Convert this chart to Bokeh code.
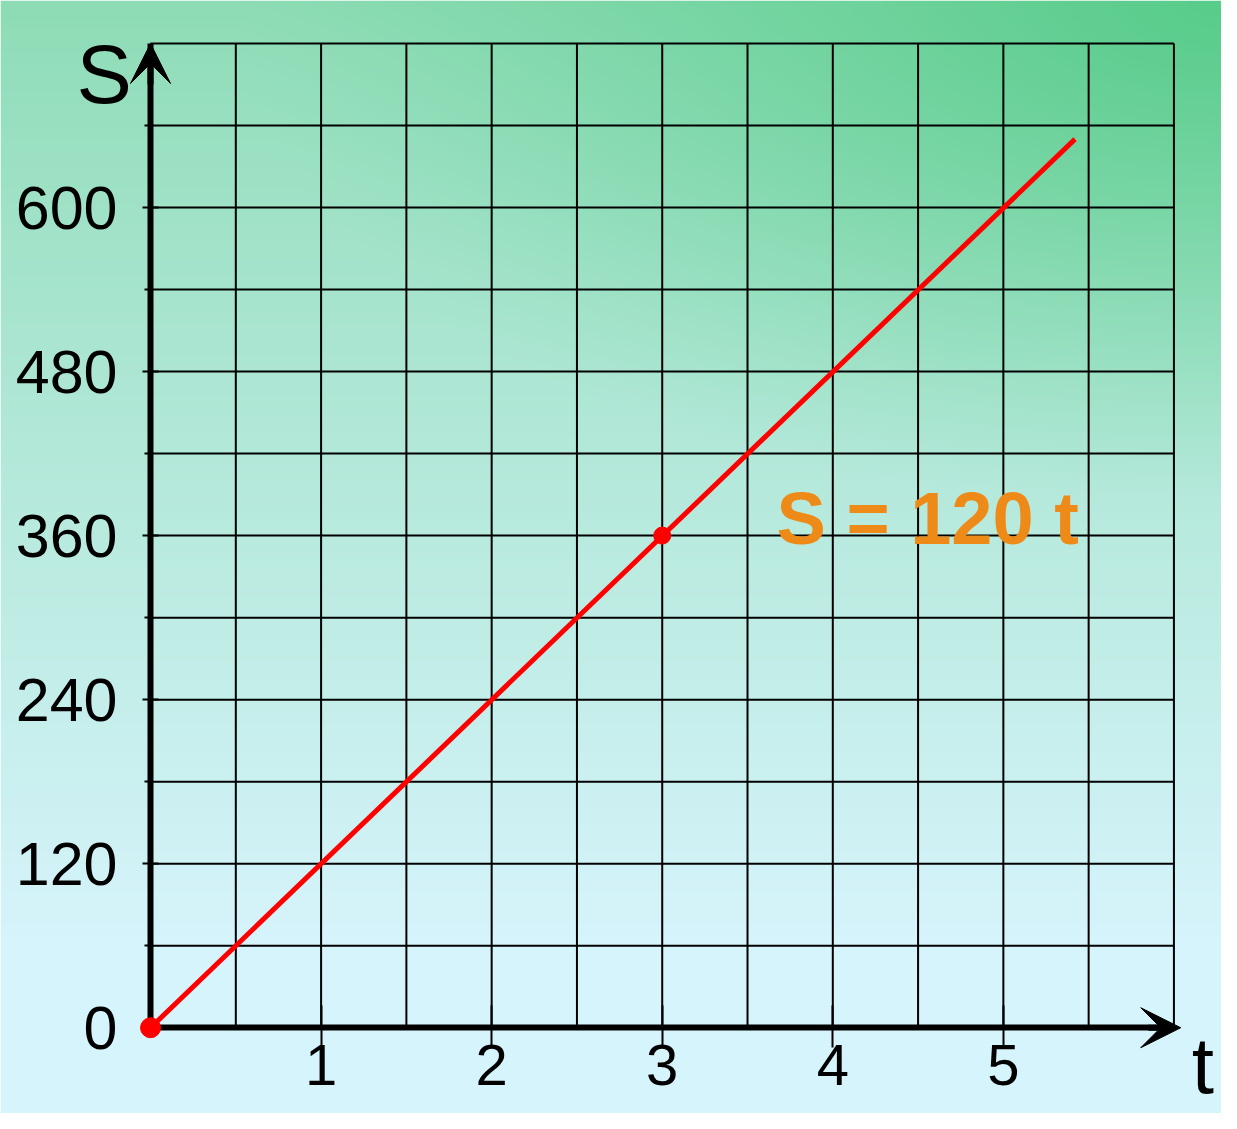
import numpy as np
from bokeh.plotting import figure
from bokeh.models import Range1d, LinearAxis, FixedTicker, Arrow, VeeHead, Label
from bokeh.embed import file_html
from bokeh.resources import INLINE

# ---- data ----
t_line = [0, 5.42]
s_line = [0, 650]
point_t = [0, 3]
point_s = [0, 360]
x_ticks = [1, 2, 3, 4, 5]
y_ticks = [0, 120, 240, 360, 480, 600]
y_minor = [60, 180, 300, 420, 540, 660]
x_grid = [0.5, 1, 1.5, 2, 2.5, 3, 3.5, 4, 4.5, 5, 5.5, 6]
y_grid = [60, 120, 180, 240, 300, 360, 420, 480, 540, 600, 660, 720]
formula_text = "S = 120 t"
x_name = "t"
y_name = "S"

W, H = 1221, 1113
X0, X1 = -0.8796, 6.2789
Y0, Y1 = -62.74, 751.44

p = figure(width=W, height=H, output_backend="svg", toolbar_location=None,
           x_range=Range1d(X0, X1), y_range=Range1d(Y0, Y1),
           min_border=0, x_axis_location=None, y_axis_location=None)
p.outline_line_color = None
p.background_fill_alpha = 0
p.border_fill_alpha = 0
for g in p.grid:
    g.visible = False

# ---- background gradient (image) ----
ny, nx = 280, 300
py = np.linspace(1129, 0, ny)[:, None]  # row 0 = bottom
px = np.linspace(0, 1237, nx)[None, :]
top = np.array([141, 220, 181], float)
bot = np.array([214, 244, 251], float)
f = np.clip(py / 950.0, 0, 1) ** 0.9
base = top[None, None, :] * (1 - f[..., None]) + bot[None, None, :] * f[..., None]
base = np.broadcast_to(base, (ny, nx, 3)).copy()
d = np.sqrt(((1237 - px) / 1000.0) ** 2 + (py / 520.0) ** 2)
gw = np.clip(1 - d, 0, 1) ** 1.2
green = np.array([88, 204, 138], float)
col = base * (1 - gw[..., None]) + green[None, None, :] * gw[..., None]
img = np.empty((ny, nx), dtype=np.uint32)
v = img.view(dtype=np.uint8).reshape((ny, nx, 4))
v[..., 0] = col[..., 0].astype(np.uint8)
v[..., 1] = col[..., 1].astype(np.uint8)
v[..., 2] = col[..., 2].astype(np.uint8)
v[..., 3] = 255
p.image_rgba(image=[img], x=X0, y=Y0, dw=X1 - X0, dh=Y1 - Y0)

# ---- grid ----
p.segment(x0=x_grid, y0=[0] * len(x_grid), x1=x_grid, y1=[720] * len(x_grid),
          line_color="black", line_width=2)
p.segment(x0=[0] * len(y_grid), y0=y_grid, x1=[6] * len(y_grid), y1=y_grid,
          line_color="black", line_width=2)

# ---- axes ----
FONT = "Liberation Sans"
xaxis = LinearAxis(fixed_location=0, ticker=FixedTicker(ticks=x_ticks, minor_ticks=[]),
                   bounds=(0, 6.0))
xaxis.axis_line_width = 6
xaxis.axis_line_color = "black"
xaxis.major_tick_in = 22
xaxis.major_tick_out = 20
xaxis.major_tick_line_width = 2
xaxis.minor_tick_line_color = None
xaxis.major_label_text_font = FONT
xaxis.major_label_text_font_size = "58px"
xaxis.major_label_text_color = "black"
xaxis.major_label_standoff = -3
p.add_layout(xaxis, "below")

yaxis = LinearAxis(fixed_location=0, ticker=FixedTicker(ticks=y_ticks, minor_ticks=y_minor),
                   bounds=(0, 720))
yaxis.axis_line_width = 6
yaxis.axis_line_color = "black"
yaxis.major_tick_in = 8
yaxis.major_tick_out = 8
yaxis.major_tick_line_width = 2
yaxis.minor_tick_in = 0
yaxis.minor_tick_out = 6
yaxis.minor_tick_line_width = 2
yaxis.major_label_text_font = FONT
yaxis.major_label_text_font_size = "61px"
yaxis.major_label_text_color = "black"
yaxis.major_label_standoff = 25
p.add_layout(yaxis, "left")

p.add_layout(Arrow(end=VeeHead(size=40, fill_color="black", line_color="black", line_width=1),
                   x_start=0, y_start=690, x_end=0, y_end=720, line_width=6, line_color="black"))
p.add_layout(Arrow(end=VeeHead(size=40, fill_color="black", line_color="black", line_width=1),
                   x_start=5.85, y_start=0, x_end=6.04, y_end=0, line_width=6, line_color="black"))

# ---- line and points ----
p.line(t_line, s_line, line_color="#ff0000", line_width=5)
p.scatter(point_t, point_s, size=[20, 17], fill_color="#ff0000", line_color="#ff0000",
          level="overlay")

# ---- texts ----
p.add_layout(Label(x=3.67, y=372.8, text=formula_text, text_font=FONT, text_font_style="bold",
                   text_font_size="74px", text_color="#ee8a18", text_baseline="alphabetic"))
p.add_layout(Label(x=-0.434, y=697.4, text=y_name, text_font=FONT,
                   text_font_size="83px", text_color="black", text_baseline="alphabetic"))
p.add_layout(Label(x=6.105, y=-27.4, text=x_name, text_font=FONT,
                   text_font_size="80px", text_color="black", text_baseline="alphabetic"))

open("out.html", "w").write(file_html(p, INLINE))
